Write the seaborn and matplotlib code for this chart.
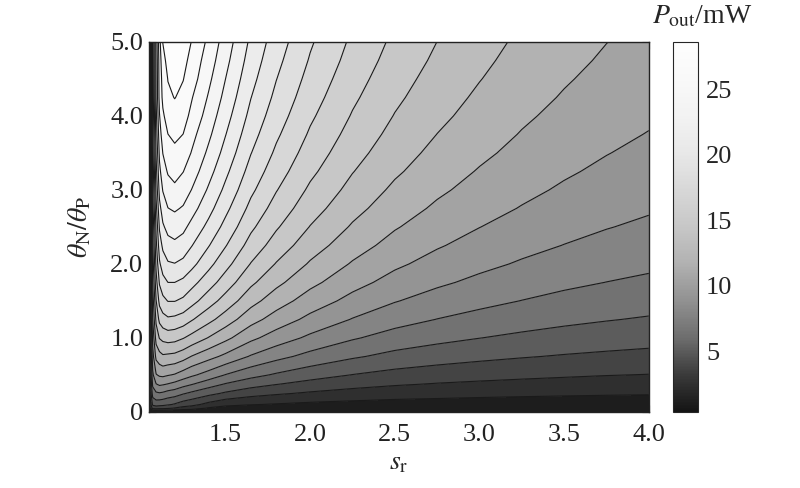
import numpy as np
import matplotlib
matplotlib.use("Agg")
import matplotlib.pyplot as plt
import seaborn as sns

sns.set_theme(style="ticks")
plt.rcParams['font.family'] = ['Liberation Serif', 'DejaVu Serif']
plt.rcParams['mathtext.fontset'] = 'stix'

# values (P_out in mW), rows follow theta_ratio
s_r = [1.047, 1.07, 1.09, 1.11, 1.13, 1.16, 1.2, 1.25, 1.3, 1.4, 1.5,
       1.65, 1.8, 2.0, 2.25, 2.5, 2.75, 3.0, 3.25, 3.5, 3.75, 4.0]
theta_ratio = [0, 0.05, 0.1, 0.25, 0.375, 0.5, 0.75, 1.0, 1.25, 1.5, 1.75, 2.0,
               2.25, 2.5, 2.75, 3.0, 3.25, 3.5, 3.75, 4.0, 4.25, 4.5, 4.75, 5.0]

p_out = [
    [0.4, 0.4, 0.4, 0.4, 0.4, 0.4, 0.4, 0.4, 0.4,
     0.4, 0.4, 0.4, 0.4, 0.4, 0.4, 0.4, 0.4, 0.4, 0.4, 0.4, 0.4, 0.4],
    [1.0, 3.5, 3.6, 3.5, 3.5, 3.3, 3.0, 2.6, 2.4,
     1.61, 1.26, 1.11, 1.03, 0.94, 0.87, 0.82, 0.79, 0.78, 0.75, 0.73, 0.73, 0.71],
    [1.3, 4.7, 5.0, 4.9, 4.8, 4.6, 4.3, 3.8, 3.5,
     2.68, 2.08, 1.81, 1.65, 1.46, 1.33, 1.22, 1.18, 1.13, 1.09, 1.06, 1.03, 1.02],
    [1.7, 6.4, 6.9, 7.0, 6.9, 6.6, 6.4, 5.9, 5.5,
     4.83, 4.23, 3.61, 3.26, 2.91, 2.59, 2.37, 2.23, 2.11, 2.02, 1.95, 1.89, 1.85],
    [2.1, 7.4, 8.4, 8.7, 8.6, 8.4, 8.1, 7.6, 7.2,
     6.38, 5.68, 4.97, 4.48, 3.99, 3.54, 3.22, 3.01, 2.86, 2.74, 2.63, 2.54, 2.48],
    [2.3, 8.2, 9.7, 10.0, 10.1, 9.9, 9.7, 9.2, 8.7,
     7.92, 7.07, 6.20, 5.60, 4.98, 4.40, 4.00, 3.74, 3.54, 3.38, 3.25, 3.13, 3.05],
    [2.8, 9.3, 11.5, 12.0, 12.3, 12.2, 12.1, 11.7, 11.1,
     10.27, 9.49, 8.34, 7.53, 6.70, 5.95, 5.39, 5.03, 4.75, 4.52, 4.33, 4.18, 4.05],
    [3.2, 10.2, 13.0, 13.9, 14.2, 14.4, 14.3, 13.9, 13.4,
     12.42, 11.49, 10.12, 9.17, 8.18, 7.25, 6.58, 6.14, 5.79, 5.50, 5.27, 5.07, 4.91],
    [3.6, 11.1, 14.1, 15.5, 16.0, 16.3, 16.2, 15.9, 15.3,
     14.23, 13.19, 11.64, 10.57, 9.44, 8.39, 7.62, 7.09, 6.69, 6.35, 6.06, 5.84, 5.65],
    [3.9, 11.8, 15.1, 16.9, 17.5, 17.9, 17.9, 17.6, 17.0,
     15.78, 14.64, 12.96, 11.76, 10.53, 9.38, 8.53, 7.92, 7.47, 7.09, 6.76, 6.51, 6.31],
    [4.2, 12.5, 16.0, 18.0, 18.7, 19.2, 19.2, 18.9, 18.3,
     17.11, 15.88, 14.10, 12.82, 11.49, 10.26, 9.32, 8.68, 8.16, 7.74, 7.38, 7.10, 6.87],
    [4.4, 13.1, 16.8, 19.0, 19.9, 20.4, 20.5, 20.2, 19.6,
     18.26, 16.97, 15.11, 13.75, 12.34, 11.02, 10.04, 9.33, 8.78, 8.32, 7.94, 7.62, 7.37],
    [4.6, 13.6, 17.5, 19.9, 20.8, 21.4, 21.6, 21.3, 20.6,
     19.28, 17.94, 15.99, 14.58, 13.10, 11.72, 10.67, 9.92, 9.33, 8.83, 8.43, 8.09, 7.83],
    [4.8, 14.0, 18.1, 20.7, 21.7, 22.3, 22.5, 22.2, 21.5,
     20.18, 18.79, 16.78, 15.32, 13.78, 12.34, 11.25, 10.45, 9.82, 9.30, 8.86, 8.51, 8.23],
    [5.0, 14.6, 18.8, 21.5, 22.5, 23.2, 23.4, 23.1, 22.4,
     20.99, 19.55, 17.48, 15.98, 14.39, 12.90, 11.77, 10.93, 10.28, 9.73, 9.27, 8.89, 8.59],
    [5.2, 15.1, 19.5, 22.3, 23.3, 24.0, 24.3, 23.9, 23.2,
     21.71, 20.24, 18.13, 16.58, 14.94, 13.41, 12.23, 11.37, 10.69, 10.11, 9.63, 9.24, 8.93],
    [5.3, 15.5, 20.1, 22.9, 24.0, 24.7, 25.0, 24.6, 23.9,
     22.36, 20.85, 18.70, 17.12, 15.46, 13.88, 12.68, 11.77, 11.05, 10.46, 9.96, 9.55, 9.22],
    [5.5, 15.9, 20.6, 23.5, 24.6, 25.4, 25.6, 25.3, 24.5,
     22.96, 21.42, 19.24, 17.62, 15.91, 14.31, 13.06, 12.13, 11.40, 10.78, 10.27, 9.84, 9.49],
    [5.6, 16.3, 21.1, 24.0, 25.2, 25.9, 26.2, 25.9, 25.0,
     23.50, 21.93, 19.71, 18.07, 16.34, 14.70, 13.43, 12.47, 11.72, 11.07, 10.55, 10.10, 9.75],
    [5.7, 16.6, 21.5, 24.5, 25.7, 26.5, 26.7, 26.4, 25.6,
     23.98, 22.40, 20.16, 18.49, 16.73, 15.07, 13.77, 12.79, 12.00, 11.34, 10.80, 10.35, 9.99],
    [5.8, 16.9, 21.9, 25.0, 26.2, 27.0, 27.3, 26.9, 26.0,
     24.44, 22.84, 20.57, 18.88, 17.09, 15.40, 14.08, 13.07, 12.27, 11.60, 11.04, 10.57, 10.20],
    [5.9, 17.0, 22.0, 25.1, 26.4, 27.3, 27.7, 27.3, 26.5,
     24.86, 23.23, 20.95, 19.23, 17.42, 15.71, 14.36, 13.33, 12.53, 11.82, 11.26, 10.78, 10.41],
    [6.0, 17.1, 22.1, 25.2, 26.8, 27.7, 28.2, 27.7, 26.8,
     25.25, 23.61, 21.30, 19.56, 17.74, 16.01, 14.64, 13.59, 12.76, 12.04, 11.47, 10.98, 10.58],
    [6.0, 17.3, 22.3, 25.5, 27.3, 28.1, 28.6, 28.2, 27.2,
     25.61, 23.94, 21.62, 19.87, 18.02, 16.27, 14.89, 13.82, 12.96, 12.25, 11.66, 11.16, 10.75],
]

x_ticks = [1.5, 2.0, 2.5, 3.0, 3.5, 4.0]
x_ticklabels = ['1.5', '2.0', '2.5', '3.0', '3.5', '4.0']
y_ticks = [0, 1, 2, 3, 4, 5]
y_ticklabels = ['0', '1.0', '2.0', '3.0', '4.0', '5.0']
cbar_ticks = [5, 10, 15, 20, 25]

p_min, p_max = 0.4, 28.6
levels = np.linspace(p_min, p_max, 22)
levels[-1] = p_max + 0.05

grays = [0.08, 0.23, 0.43, 0.57, 0.695, 0.78, 0.845, 0.91, 0.95, 0.975, 0.995]
cmap = sns.blend_palette([(g, g, g) for g in grays], as_cmap=True)

S, R = np.meshgrid(s_r, theta_ratio)
P = np.array(p_out)

fig = plt.figure(figsize=(8, 4.88), dpi=100)
ax = fig.add_axes([0.186, 0.156, 0.625, 0.758])
cax = fig.add_axes([0.841, 0.156, 0.031, 0.758])

norm = matplotlib.colors.Normalize(vmin=p_min, vmax=p_max)
ax.contourf(S, R, P, levels=levels, cmap=cmap, norm=norm)
ax.contour(S, R, P, levels=levels[1:-1], colors='#1a1a1a', linewidths=0.8)

ax.set_xlim(s_r[0], 4.0)
ax.set_ylim(0, 5)
ax.set_xticks(x_ticks)
ax.set_xticklabels(x_ticklabels)
ax.set_yticks(y_ticks)
ax.set_yticklabels(y_ticklabels)
ax.tick_params(direction='in', top=True, right=True, length=5, width=0.8,
               labelsize=19, colors='#222222')
ax.tick_params(axis='x', pad=9)
ax.tick_params(axis='y', pad=4)
for sp in ax.spines.values():
    sp.set_linewidth(1.0)
    sp.set_color('#222222')
ax.set_xlabel(r'$s_{\rm r}$', fontsize=20, labelpad=3)
ax.set_ylabel(r'$\theta_{\rm N}/\theta_{\rm P}$', fontsize=20, labelpad=12)

sm = matplotlib.cm.ScalarMappable(norm=norm, cmap=cmap)
cb = fig.colorbar(sm, cax=cax, ticks=cbar_ticks)
cb.ax.tick_params(direction='in', length=4, width=0.8, labelsize=19, pad=6)
cb.outline.set_linewidth(0.8)
fig.text(702 / 800, 1 - 17 / 488, r'$P_{\rm out}$/mW', fontsize=20,
         ha='center', va='center')

fig.savefig('out.png', dpi=100)
